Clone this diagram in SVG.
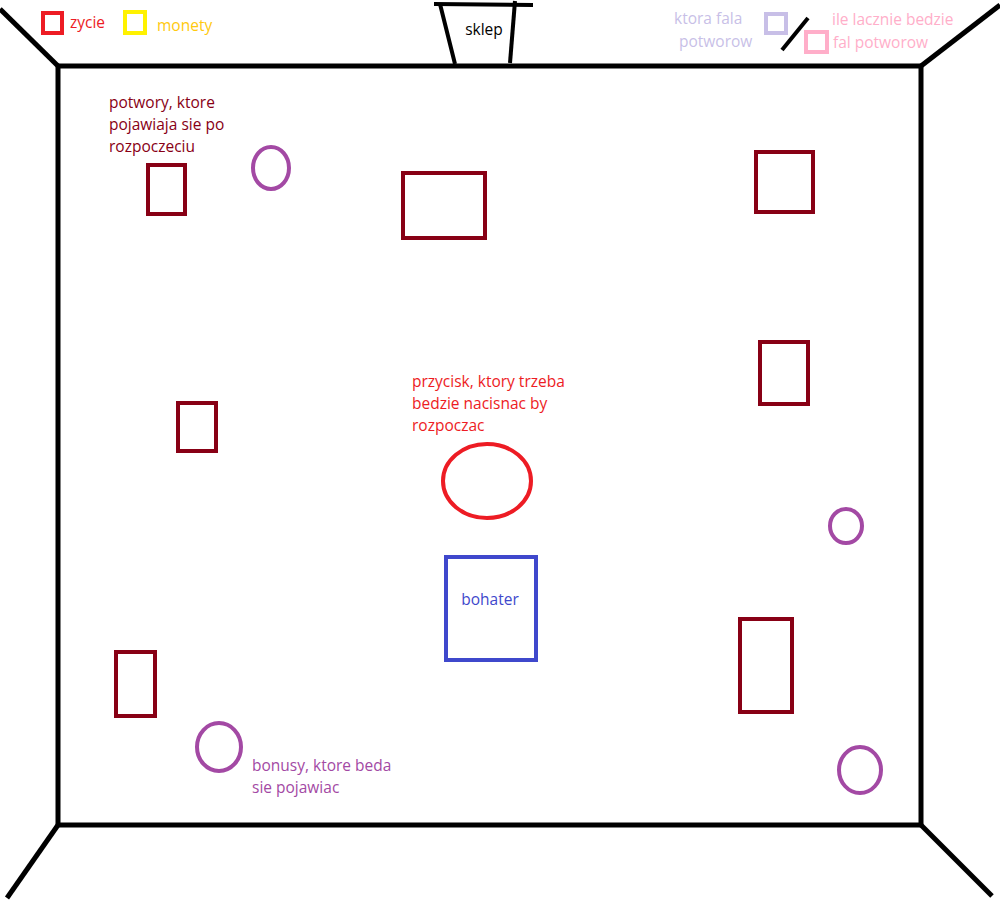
<svg xmlns="http://www.w3.org/2000/svg" width="1000" height="900" viewBox="0 0 1000 900">
<style>
text{font-family:"Open Sans","Noto Sans","Liberation Sans",sans-serif;font-size:15.5px}
.wall{stroke:#000;stroke-width:5;fill:none}
.mon{fill:none;stroke:#880015;stroke-width:4}
.bon{fill:none;stroke:#a349a4;stroke-width:4}
</style>
<rect width="1000" height="900" fill="#fff"/>
<g id="room">
<rect x="58" y="66" width="863" height="759" class="wall"/>
<line x1="0" y1="9" x2="58" y2="66" class="wall"/>
<line x1="921" y1="66" x2="1000" y2="5" class="wall"/>
<line x1="58" y1="825" x2="7" y2="898" class="wall"/>
<line x1="921" y1="825" x2="992" y2="896" class="wall"/>
</g>
<g id="sklep">
<line x1="434" y1="4" x2="533" y2="5" stroke="#000" stroke-width="4"/>
<line x1="440" y1="4" x2="455" y2="64" stroke="#000" stroke-width="4"/>
<line x1="515" y1="1" x2="510" y2="63" stroke="#000" stroke-width="4"/>
<text x="484" y="35" text-anchor="middle" fill="#000">sklep</text>
</g>
<g id="zycie">
<rect x="43" y="13" width="19" height="20" fill="none" stroke="#ed1c24" stroke-width="4"/>
<text x="70" y="28" fill="#ed1c24">zycie</text>
</g>
<g id="monety">
<rect x="125" y="12" width="20" height="21" fill="none" stroke="#fff200" stroke-width="4"/>
<text x="157" y="31" fill="#ffc90e">monety</text>
</g>
<g id="fala">
<rect x="766" y="14" width="20" height="19" fill="none" stroke="#c8bfe7" stroke-width="4"/>
<text x="674" y="24" fill="#c8bfe7">ktora fala</text>
<text x="679" y="47" fill="#c8bfe7">potworow</text>
<line x1="782" y1="50" x2="808" y2="18" stroke="#000" stroke-width="4"/>
</g>
<g id="lacznie">
<rect x="806" y="32" width="21" height="20" fill="none" stroke="#ffaec9" stroke-width="4"/>
<text x="832" y="25" fill="#ffaec9">ile lacznie bedzie</text>
<text x="833" y="48" fill="#ffaec9">fal potworow</text>
</g>
<g id="potwory">
<text fill="#880015"><tspan x="109" y="108">potwory, ktore</tspan><tspan x="109" y="130">pojawiaja sie po</tspan><tspan x="109" y="152">rozpoczeciu</tspan></text>
<rect x="148" y="165" width="37" height="49" class="mon"/>
<rect x="403" y="173" width="82" height="65" class="mon"/>
<rect x="756" y="152" width="57" height="60" class="mon"/>
<rect x="178" y="403" width="38" height="48" class="mon"/>
<rect x="760" y="342" width="48" height="62" class="mon"/>
<rect x="116" y="652" width="39" height="64" class="mon"/>
<rect x="740" y="619" width="52" height="93" class="mon"/>
</g>
<g id="bonusy">
<ellipse cx="271" cy="168" rx="18" ry="21" class="bon"/>
<ellipse cx="846" cy="526" rx="16" ry="17" class="bon"/>
<ellipse cx="219" cy="747" rx="22" ry="24" class="bon"/>
<ellipse cx="860" cy="770" rx="21" ry="23" class="bon"/>
<text fill="#a349a4"><tspan x="252" y="771">bonusy, ktore beda</tspan><tspan x="252" y="793">sie pojawiac</tspan></text>
</g>
<g id="przycisk">
<text fill="#ed1c24"><tspan x="412" y="387">przycisk, ktory trzeba</tspan><tspan x="412" y="409">bedzie nacisnac by</tspan><tspan x="412" y="431">rozpoczac</tspan></text>
<ellipse cx="487" cy="481" rx="44" ry="37" fill="none" stroke="#ed1c24" stroke-width="4"/>
</g>
<g id="bohater">
<rect x="446" y="557" width="90" height="103" fill="none" stroke="#3f48cc" stroke-width="4"/>
<text x="490" y="605" text-anchor="middle" fill="#3f48cc">bohater</text>
</g>
<g id="connectors"></g>
</svg>
